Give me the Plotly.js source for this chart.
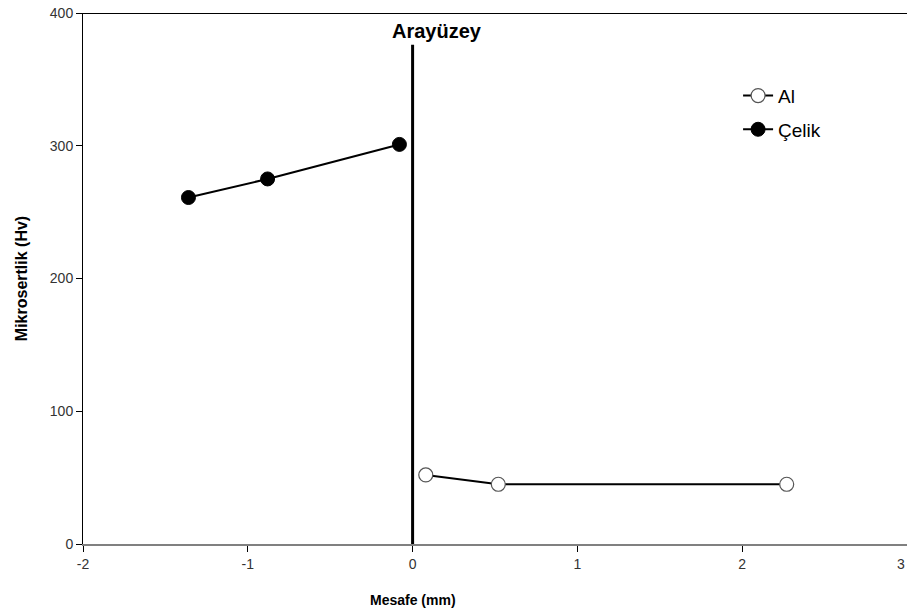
<!DOCTYPE html>
<html>
<head>
<meta charset="utf-8">
<script src="https://cdn.plot.ly/plotly-3.0.1.min.js"></script>
<style>html,body{margin:0;padding:0;background:#fff;}#chart{width:907px;height:614px;}</style>
</head>
<body>
<div id="chart"></div>
<script>
const alX = [0.08, 0.52, 2.27];
const alY = [52, 45, 45];
const celikX = [-1.36, -0.88, -0.08];
const celikY = [261, 275, 301];
const interfaceX = [0, 0];
const interfaceY = [0, 376];
const xTicks = [-2, -1, 0, 1, 2, 3];
const yTicks = [0, 100, 200, 300, 400];

const font = 'Arial, "Liberation Sans", sans-serif';

const traces = [
  {
    x: interfaceX, y: interfaceY, mode: 'lines', showlegend: false, hoverinfo: 'skip',
    line: {color: '#000', width: 3}
  },
  {
    name: 'Al', legendgroup: 'a', x: alX, y: alY, mode: 'lines+markers', cliponaxis: false,
    line: {color: '#000', width: 2},
    marker: {symbol: 'circle', size: 14, color: '#fff', line: {color: '#555', width: 1.2}}
  },
  {
    name: 'Çelik', legendgroup: 'b', x: celikX, y: celikY, mode: 'lines+markers', cliponaxis: false,
    line: {color: '#000', width: 2},
    marker: {symbol: 'circle', size: 14, color: '#000', line: {color: '#000', width: 1}}
  }
];

const layout = {
  width: 907, height: 614,
  margin: {l: 83, r: 0, t: 13, b: 70},
  paper_bgcolor: '#fff', plot_bgcolor: '#fff',
  font: {family: font, color: '#000'},
  showlegend: true,
  legend: {
    x: 0.795, y: 0.88, xanchor: 'left', yanchor: 'top',
    font: {family: font, size: 19, color: '#000'},
    bgcolor: 'rgba(0,0,0,0)', itemwidth: 30, tracegroupgap: 6
  },
  xaxis: {
    range: [-2, 3], tickvals: xTicks.slice(0, -1), ticktext: xTicks.slice(0, -1).map(String),
    showgrid: false, zeroline: false,
    showline: true, linecolor: '#808080', linewidth: 2,
    ticks: 'outside', ticklen: 6, tickcolor: '#000', tickwidth: 1,
    tickfont: {family: font, size: 14, color: '#333'},
    fixedrange: true
  },
  yaxis: {
    range: [0, 400], tickvals: yTicks, ticktext: yTicks.map(String),
    showgrid: false, zeroline: false,
    showline: true, linecolor: '#000', linewidth: 1,
    ticks: 'outside', ticklen: 6, tickcolor: '#000', tickwidth: 1,
    tickfont: {family: font, size: 14, color: '#333'},
    title: {text: 'Mikrosertlik (Hv)', font: {family: font, size: 16, color: '#000', weight: 'bold'}, standoff: 18},
    fixedrange: true
  },
  shapes: [
    {type: 'line', xref: 'paper', yref: 'y', x0: 0, x1: 1, y0: 400, y1: 400, line: {color: '#000', width: 2}}
  ],
  annotations: [
    {text: '<b>Arayüzey</b>', xref: 'x', yref: 'paper', x: 0.145, y: 0.966, xanchor: 'center', yanchor: 'middle',
     showarrow: false, font: {family: font, size: 20, color: '#000'}},
    {text: '<b>Mesafe (mm)</b>', xref: 'x', yref: 'paper', x: 0, y: -0.105, xanchor: 'center', yanchor: 'middle',
     showarrow: false, font: {family: font, size: 14, color: '#000'}},
    {text: String(xTicks[xTicks.length - 1]), xref: 'x', yref: 'paper', x: xTicks[xTicks.length - 1], y: -0.037,
     xanchor: 'right', yanchor: 'middle', showarrow: false, font: {family: font, size: 14, color: '#333'}}
  ]
};

Plotly.newPlot('chart', traces, layout, {displayModeBar: false, staticPlot: true});
</script>
</body>
</html>
